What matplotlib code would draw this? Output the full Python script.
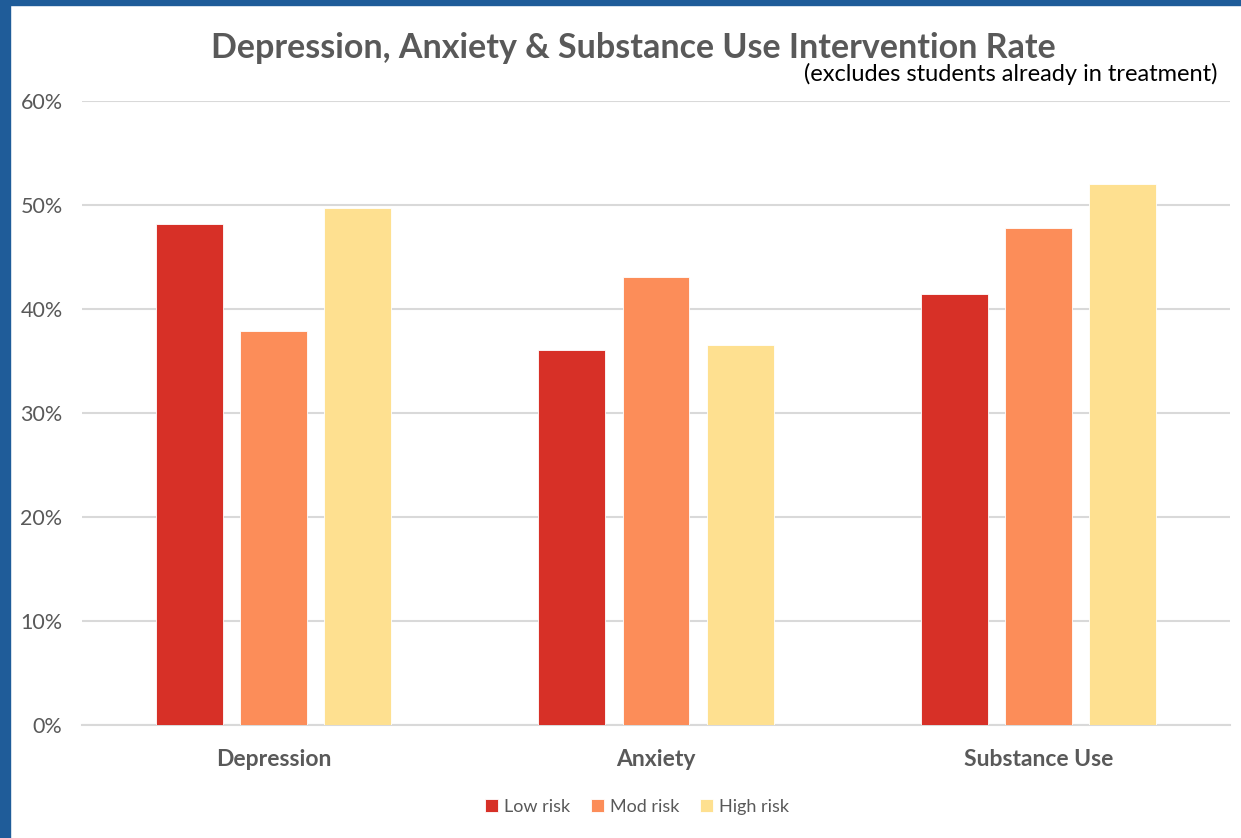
import numpy as np
import matplotlib.pyplot as plt
from matplotlib.patches import Rectangle

plt.rcParams['font.family'] = ['Lato', 'DejaVu Sans']

categories = ["Depression", "Anxiety", "Substance Use"]
series = ["Low risk", "Mod risk", "High risk"]
low_risk = [0.482, 0.361, 0.414]
mod_risk = [0.379, 0.431, 0.478]
high_risk = [0.497, 0.365, 0.520]
colors = ["#D73027", "#FC8D59", "#FEE090"]

fig = plt.figure(figsize=(12.41, 8.38), dpi=100)
# blue frame on the left and top edges
fig.patches.append(Rectangle((0, 0), 10 / 1241, 1, transform=fig.transFigure,
                             color="#1F5C99", zorder=0))
fig.patches.append(Rectangle((0, 1 - 5 / 838), 1, 5 / 838, transform=fig.transFigure,
                             color="#1F5C99", zorder=0))

ax = fig.add_axes([82 / 1241, 113 / 838, 1148 / 1241, 624 / 838])
x = np.arange(len(categories))
width = 0.175
step = 0.22
for i, (vals, name) in enumerate(zip([low_risk, mod_risk, high_risk], series)):
    ax.bar(x + (i - 1) * step, vals, width, color=colors[i], label=name,
           edgecolor="white", linewidth=0.6, zorder=3)

ax.set_xlim(-0.5, 2.5)
ax.set_ylim(0, 0.6)
ax.set_yticks(np.arange(0, 0.61, 0.1))
ax.set_yticklabels([f"{int(round(v * 100))}%" for v in np.arange(0, 0.61, 0.1)])
ax.yaxis.grid(True, color="#D9D9D9", linewidth=1.5, zorder=0)
ax.set_xticks(x)
ax.set_xticklabels(categories, fontweight="bold")
for s in ["top", "right", "left"]:
    ax.spines[s].set_visible(False)
ax.spines["bottom"].set_color("#D9D9D9")
ax.spines["bottom"].set_linewidth(1.5)
ax.tick_params(axis="y", length=0, pad=14, labelsize=15.5, labelcolor="#595959")
ax.tick_params(axis="x", length=0, pad=17, labelsize=16.5, labelcolor="#595959")

fig.text(633 / 1241, 1 - 48 / 838, "Depression, Anxiety & Substance Use Intervention Rate",
         ha="center", va="center", fontsize=24.5, fontweight="bold", color="#595959")
fig.text(1217 / 1241, 1 - 74 / 838, "(excludes students already in treatment)",
         ha="right", va="center", fontsize=17, color="black")

leg = ax.legend(loc="center", bbox_transform=fig.transFigure,
                bbox_to_anchor=(637 / 1241, 1 - 807 / 838), ncol=3, frameon=False,
                fontsize=13, handlelength=0.7, handleheight=0.7, handletextpad=0.35,
                columnspacing=1.15, labelcolor="#595959")

fig.savefig("out.png", dpi=100)
plt.close(fig)
